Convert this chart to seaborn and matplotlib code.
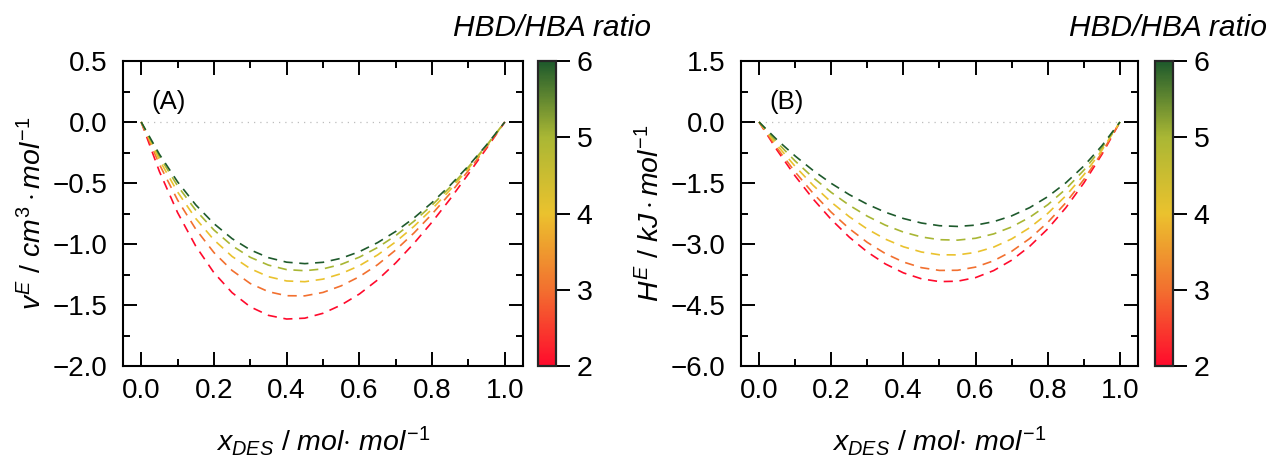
import numpy as np
import pandas as pd
import matplotlib
matplotlib.use("Agg")
import matplotlib.pyplot as plt
from matplotlib.colors import LinearSegmentedColormap, Normalize
from matplotlib.cm import ScalarMappable
import seaborn as sns

# ---------------- data ----------------
x_des = [0.00, 0.05, 0.10, 0.15, 0.20, 0.25, 0.30, 0.35, 0.40, 0.45, 0.50,
         0.55, 0.60, 0.65, 0.70, 0.75, 0.80, 0.85, 0.90, 0.95, 1.00]
ratios = [2, 3, 4, 5, 6]

# Panel A: excess molar volume (cm3/mol)
vE_r2 = [0, -0.405, -0.742, -1.017, -1.235, -1.399, -1.515, -1.585, -1.615, -1.608, -1.568,
         -1.500, -1.410, -1.295, -1.155, -0.995, -0.820, -0.630, -0.425, -0.215, 0]
vE_r3 = [0, -0.347, -0.639, -0.878, -1.070, -1.217, -1.324, -1.391, -1.424, -1.425, -1.397,
         -1.343, -1.268, -1.170, -1.049, -0.910, -0.754, -0.584, -0.398, -0.204, 0]
vE_r4 = [0, -0.311, -0.573, -0.791, -0.966, -1.102, -1.202, -1.268, -1.303, -1.309, -1.288,
         -1.243, -1.178, -1.090, -0.982, -0.856, -0.713, -0.555, -0.381, -0.196, 0]
vE_r5 = [0, -0.282, -0.523, -0.723, -0.885, -1.014, -1.109, -1.173, -1.210, -1.219, -1.204,
         -1.167, -1.108, -1.029, -0.931, -0.814, -0.681, -0.533, -0.368, -0.191, 0]
vE_r6 = [0, -0.264, -0.490, -0.679, -0.833, -0.956, -1.048, -1.112, -1.149, -1.161, -1.150,
         -1.117, -1.063, -0.989, -0.897, -0.787, -0.660, -0.518, -0.360, -0.187, 0]

# Panel B: excess molar enthalpy (kJ/mol)
hE_r2 = [0, -0.694, -1.327, -1.895, -2.397, -2.831, -3.196, -3.490, -3.710, -3.856, -3.925,
         -3.915, -3.826, -3.654, -3.398, -3.056, -2.627, -2.109, -1.499, -0.797, 0]
hE_r3 = [0, -0.643, -1.229, -1.755, -2.219, -2.622, -2.961, -3.236, -3.443, -3.582, -3.650,
         -3.646, -3.568, -3.413, -3.180, -2.866, -2.469, -1.986, -1.415, -0.754, 0]
hE_r4 = [0, -0.572, -1.091, -1.558, -1.971, -2.329, -2.633, -2.880, -3.068, -3.197, -3.265,
         -3.268, -3.207, -3.077, -2.875, -2.599, -2.247, -1.815, -1.298, -0.695, 0]
hE_r5 = [0, -0.503, -0.959, -1.369, -1.731, -2.047, -2.316, -2.537, -2.707, -2.827, -2.894,
         -2.905, -2.859, -2.752, -2.581, -2.343, -2.034, -1.649, -1.185, -0.637, 0]
hE_r6 = [0, -0.439, -0.836, -1.193, -1.509, -1.786, -2.023, -2.219, -2.373, -2.484, -2.550,
         -2.568, -2.536, -2.451, -2.308, -2.105, -1.836, -1.496, -1.081, -0.584, 0]

panel_labels = ["(A)", "(B)"]
cbar_label = "HBD/HBA ratio"
cbar_ticks = [2, 3, 4, 5, 6]

# ---------------- style ----------------
sns.set_theme(style="white")
plt.rcParams["font.family"] = ["Liberation Sans", "DejaVu Sans"]
plt.rcParams["mathtext.fontset"] = "custom"
plt.rcParams["mathtext.it"] = "Liberation Sans:italic"
plt.rcParams["mathtext.rm"] = "Liberation Sans"
plt.rcParams["mathtext.sf"] = "Liberation Sans"
for k in ["text.color", "axes.labelcolor", "xtick.color", "ytick.color"]:
    plt.rcParams[k] = "black"

cmap = LinearSegmentedColormap.from_list(
    "hbd", [(0.0, "#ff0a2c"), (0.25, "#f2702f"), (0.5, "#ebc22e"),
            (0.75, "#aab734"), (1.0, "#1e5a2c")])
norm = Normalize(vmin=2, vmax=6)
palette = {r: cmap(norm(r)) for r in ratios}


def long_frame(series):
    rows = []
    for r, ys in zip(ratios, series):
        for xv, yv in zip(x_des, ys):
            rows.append((xv, yv, r))
    return pd.DataFrame(rows, columns=["x", "y", "ratio"])


dfA = long_frame([vE_r2, vE_r3, vE_r4, vE_r5, vE_r6])
dfB = long_frame([hE_r2, hE_r3, hE_r4, hE_r5, hE_r6])

W, H = 1272, 466
fig = plt.figure(figsize=(W / 100, H / 100), dpi=100)

def px_axes(l, r, t, b):
    return fig.add_axes([l / W, 1 - b / H, (r - l) / W, (b - t) / H])

axA = px_axes(123, 523, 61, 366)
caxA = px_axes(538, 556, 61, 366)
axB = px_axes(741, 1138, 61, 366)
caxB = px_axes(1155, 1173, 61, 366)

specs = [
    (axA, caxA, dfA, (-2.0, 0.5), np.arange(-2.0, 0.51, 0.5), 0.25,
     r"$v^{E}\ /\ cm^{3}\cdot mol^{-1}$"),
    (axB, caxB, dfB, (-6.0, 1.5), np.arange(-6.0, 1.51, 1.5), 0.75,
     r"$H^{E}\ /\ kJ\cdot mol^{-1}$"),
]

for i, (ax, cax, df, ylim, yt, ymin, ylab) in enumerate(specs):
    ax.plot([0, 1], [0, 0], color="#bdbdbd", lw=0.9, linestyle=(0, (1, 4)), zorder=1)
    sns.lineplot(data=df, x="x", y="y", hue="ratio", palette=palette,
                 legend=False, ax=ax, lw=1.2, linestyle=(0, (5.5, 4)), zorder=2)
    ax.set_xlim(-0.05, 1.05)
    ax.set_ylim(*ylim)
    ax.set_xticks(np.arange(0, 1.01, 0.2))
    ax.set_xticks(np.arange(0.1, 1.0, 0.2), minor=True)
    ax.set_yticks(yt)
    ax.set_yticks(np.arange(ylim[0] + ymin, ylim[1], 2 * ymin), minor=True)
    ax.set_xticklabels([f"{v:.1f}" for v in np.arange(0, 1.01, 0.2)])
    ax.set_yticklabels([f"{v:.1f}".replace("-", "\u2212") for v in yt])
    ax.tick_params(which="both", direction="in", top=True, right=True,
                   bottom=True, left=True, width=1.4, colors="black",
                   labelsize=20)
    ax.tick_params(axis="x", which="major", pad=9)
    ax.tick_params(axis="y", which="major", pad=11)
    ax.tick_params(which="major", length=10)
    ax.tick_params(which="minor", length=5)
    for s in ax.spines.values():
        s.set_linewidth(1.5)
        s.set_color("black")
    ax.set_xlabel(r"$x_{DES}\ /\ mol{\cdot}\ mol^{-1}$", fontsize=20.5, labelpad=14)
    ax.set_ylabel(ylab, fontsize=20.5, labelpad=4)
    ax.text(0.072, 0.865, panel_labels[i], transform=ax.transAxes,
            fontsize=18.5, ha="left", va="center")

    sm = ScalarMappable(norm=norm, cmap=cmap)
    cb = fig.colorbar(sm, cax=cax, ticks=cbar_ticks)
    cb.outline.set_linewidth(1.6)
    cb.ax.tick_params(direction="out", length=10, width=1.4, labelsize=20.5,
                      pad=5, colors="black")
    cb.ax.set_yticklabels([str(t) for t in cbar_ticks])
    cb.ax.text(1.0, 1.14, cbar_label, transform=cb.ax.transAxes,
               fontsize=21.5, style="italic", ha="left", va="center")

# place the colorbar titles where the reference has them
fig.canvas.draw()
for cax, right_px in [(caxA, 651), (caxB, 1267)]:
    t = cax.texts[0]
    t.set_transform(fig.transFigure)
    t.set_position((right_px / W, 1 - 28 / H))
    t.set_ha("right")

fig.savefig("out.png", dpi=100)
